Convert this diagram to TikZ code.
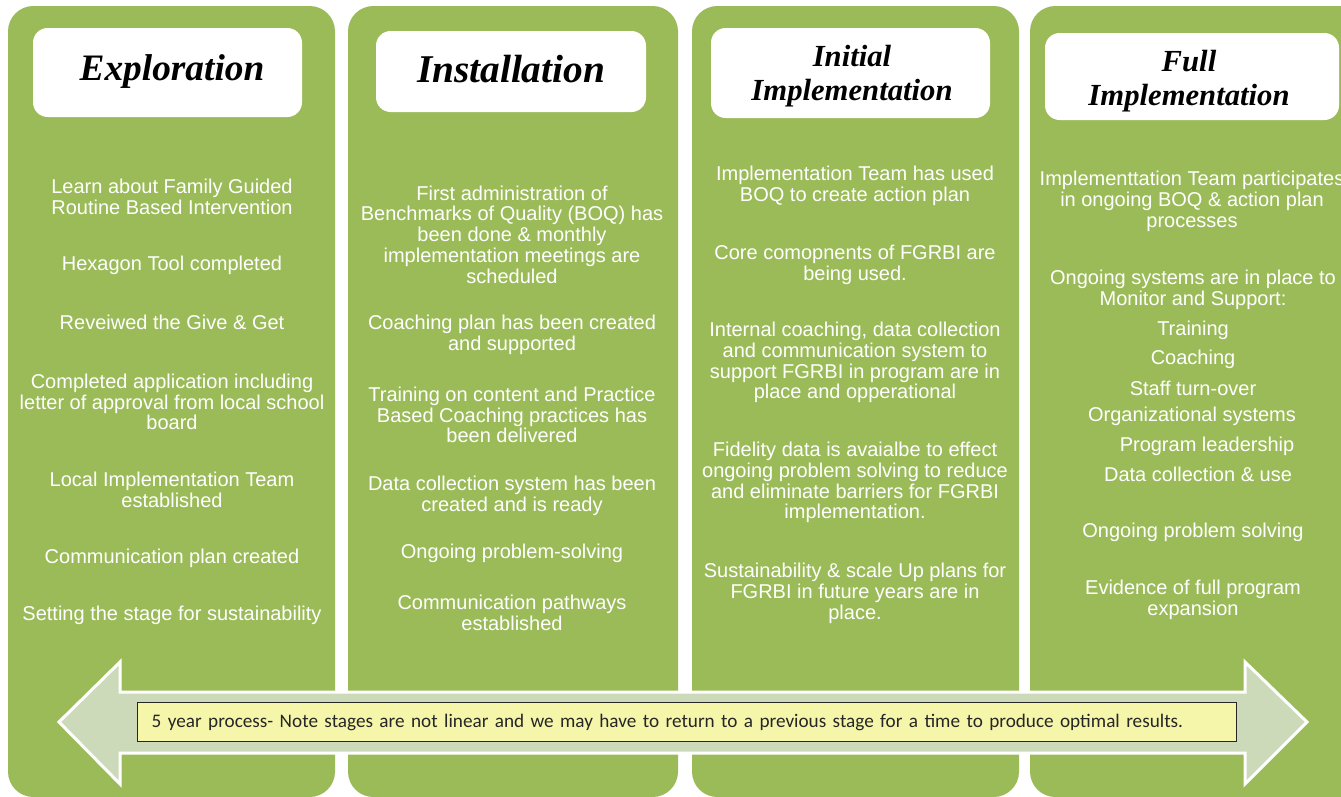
\documentclass[tikz,border=0pt]{standalone}
\usepackage{fontspec}
\setmainfont{Liberation Sans}
\newfontfamily\titlefont{Liberation Serif}
\newfontfamily\notefont{Carlito}
\definecolor{stagegreen}{RGB}{155,187,89}
\definecolor{arrowfill}{RGB}{205,218,186}
\definecolor{notefill}{RGB}{245,246,170}
\begin{document}
\begin{tikzpicture}[x=0.75pt,y=-0.75pt,
  stage/.style={fill=stagegreen, rounded corners=19pt},
  titlebox/.style={fill=white, rounded corners=11pt},
  titletext/.style={font=\titlefont\bfseries\itshape\fontsize{28}{30}\selectfont,
    text=black, align=center, inner sep=0pt},
  subtitletext/.style={font=\titlefont\bfseries\itshape\fontsize{23}{25.5}\selectfont,
    text=black, align=center, inner sep=0pt},
  item/.style={text=white, align=center, inner sep=0pt,
    font=\fontsize{15}{15.6}\selectfont},
  timeline/.style={fill=arrowfill, draw=white, line width=2.25pt, line join=miter},
  notebox/.style={fill=notefill, draw=black!85, line width=1.1pt, anchor=north west,
    text width=803pt, inner xsep=10.5pt, inner ysep=0pt, minimum height=29.25pt,
    align=left, font=\notefont\fontsize{14.4}{16}\selectfont, text=black!85}]

\clip (0,0) rectangle (1341,796);

% stage columns
\fill[stage] (8,6) rectangle (335,797);
\fill[stage] (348,6) rectangle (678,797);
\fill[stage] (692,6) rectangle (1019,797);
\fill[stage] (1030,6) rectangle (1380,797);

% title boxes
\fill[titlebox] (33,28) rectangle (302,117);
\fill[titlebox] (376,31) rectangle (646,112);
\fill[titlebox] (711,28) rectangle (990,118);
\fill[titlebox] (1045,33) rectangle (1339,120);

\node[titletext] (t1) at (172,72) {Exploration};
\node[titletext, font=\titlefont\bfseries\itshape\fontsize{29.5}{30}\selectfont] (t2) at (511,69) {Installation};
\node[subtitletext] (t3) at (852,76) {Initial\\Implementation};
\node[subtitletext] (t4) at (1189,81) {Full\\Implementation};

% Exploration
\node[item] (e1) at (172,197) {Learn about Family Guided\\Routine Based Intervention};
\node[item] (e2) at (172,265) {Hexagon Tool completed};
\node[item] (e3) at (172,322) {Reveiwed the Give \& Get};
\node[item] (e4) at (172,402) {Completed application including\\letter of approval from local school\\board};
\node[item] (e5) at (172,490) {Local Implementation Team\\established};
\node[item] (e6) at (172,558) {Communication plan created};
\node[item] (e7) at (172,615) {Setting the stage for sustainability};

% Installation
\node[item] (i1) at (512,234.5) {First administration of\\Benchmarks of Quality (BOQ) has\\been done \& monthly\\implementation meetings are\\scheduled};
\node[item] (i2) at (512,334.5) {Coaching plan has been created\\and supported};
\node[item] (i3) at (512,415) {Training on content and Practice\\Based Coaching practices has\\been delivered};
\node[item] (i4) at (512,495.5) {Data collection system has been\\created and is ready};
\node[item] (i5) at (512,553) {Ongoing problem-solving};
\node[item] (i6) at (512,612.5) {Communication pathways\\established};

% Initial Implementation
\node[item] (n1) at (855,185.5) {Implementation Team has used\\BOQ to create action plan};
\node[item] (n2) at (855,264.5) {Core comopnents of FGRBI are\\being used.};
\node[item] (n3) at (855,362.5) {Internal coaching, data collection\\and communication system to\\support FGRBI in program are in\\place and opperational};
\node[item] (n4) at (855,482.5) {Fidelity data is avaialbe to effect\\ongoing problem solving to reduce\\and eliminate barriers for FGRBI\\implementation.};
\node[item] (n5) at (855,593.5) {Sustainability \& scale Up plans for\\FGRBI in future years are in\\place.};

% Full Implementation
\node[item] (f1) at (1192,201.5) {Implementtation Team participates\\in ongoing BOQ \& action plan\\processes};
\node[item] (f2) at (1193,290) {Ongoing systems are in place to\\Monitor and Support:};
\node[item] (f3) at (1193,330) {Training};
\node[item] (f4) at (1193,359) {Coaching};
\node[item] (f5) at (1193,388) {Staff turn-over};
\node[item] (f6) at (1192,416) {Organizational systems};
\node[item] (f7) at (1207,446) {Program leadership};
\node[item] (f8) at (1198,474) {Data collection \& use};
\node[item] (f9) at (1193,532) {Ongoing problem solving};
\node[item] (f10) at (1193,600) {Evidence of full program\\expansion};

% two-headed timeline arrow
\draw[timeline] (59,722) -- (120,662) -- (120,692) -- (1245,692) -- (1245,662)
  -- (1307,722) -- (1245,784) -- (1245,753) -- (120,753) -- (120,784) -- cycle;

\node[notebox] (note) at (137,702) {5 year process- Note stages are not linear and we may have to return to a previous stage for a time to produce optimal results.};
\end{tikzpicture}
\end{document}
